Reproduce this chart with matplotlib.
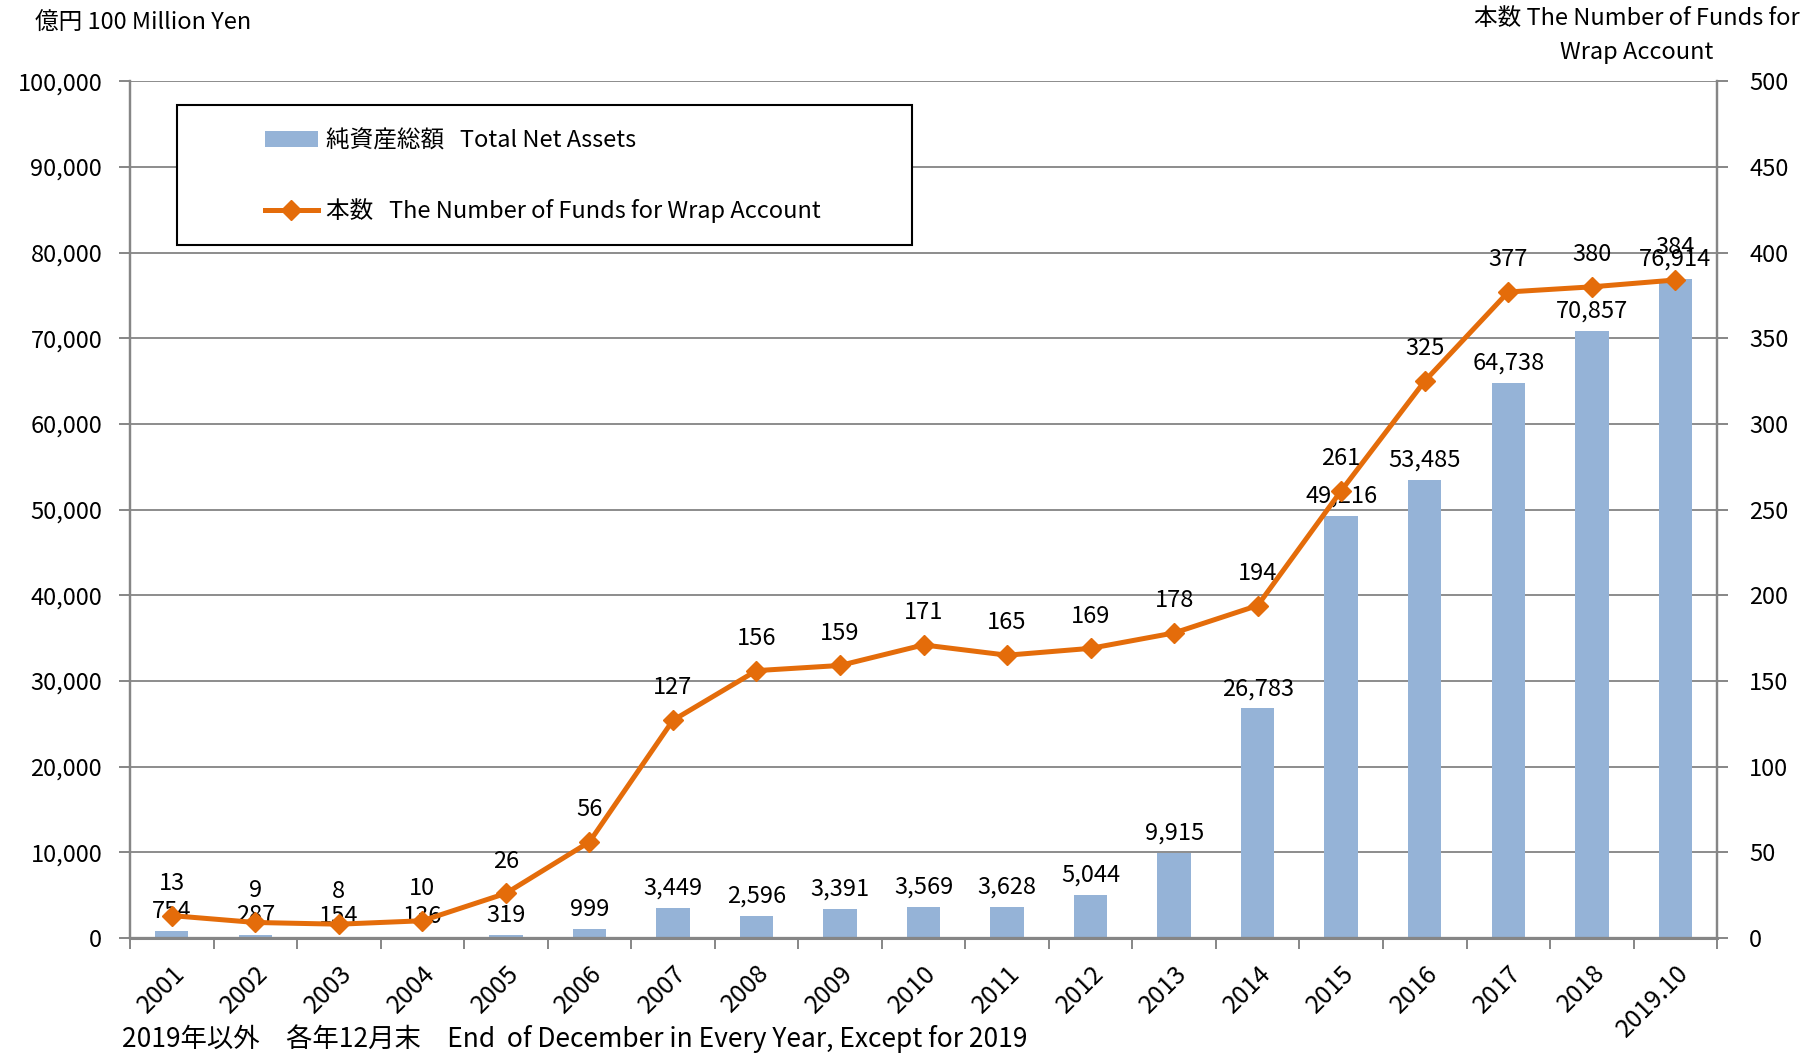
"""Wrap account funds: total net assets (bars) and number of funds (line)."""

import matplotlib
matplotlib.use('Agg')
import matplotlib.pyplot as plt
from matplotlib.ticker import FuncFormatter, FixedLocator
from matplotlib.lines import Line2D
from matplotlib.patches import Patch, Rectangle


YEARS = ['2001', '2002', '2003', '2004', '2005', '2006', '2007', '2008', '2009',
         '2010', '2011', '2012', '2013', '2014', '2015', '2016', '2017', '2018',
         '2019.10']
NET_ASSETS = [754, 287, 154, 136, 319, 999, 3449, 2596, 3391, 3569, 3628, 5044,
              9915, 26783, 49216, 53485, 64738, 70857, 76914]
NUM_FUNDS = [13, 9, 8, 10, 26, 56, 127, 156, 159, 171, 165, 169, 178, 194, 261,
             325, 377, 380, 384]

BAR_COLOR = '#95b3d7'
LINE_COLOR = '#e46c0a'
AXIS_COLOR = '#868686'
GRID_COLOR = '#8c8c8c'
TEXT_COLOR = '#000000'
FS = 17

plt.rcParams['font.family'] = ['Noto Sans CJK JP', 'DejaVu Sans']
plt.rcParams['font.size'] = FS


def main():
    fig = plt.figure(figsize=(18.18, 10.55), dpi=100)
    ax = fig.add_axes([0.0715, 0.111, 0.873, 0.812])
    ax2 = ax.twinx()

    x = list(range(len(YEARS)))

    ax.bar(x, NET_ASSETS, width=0.4, color=BAR_COLOR, zorder=2)
    ax.set_ylim(0, 100000)
    ax.set_xlim(-0.5, len(YEARS) - 0.5)
    ax.yaxis.set_major_locator(FixedLocator(range(0, 100001, 10000)))
    ax.yaxis.set_major_formatter(FuncFormatter(lambda v, p: f'{int(v):,}'))
    ax.grid(True, axis='y', color=GRID_COLOR, linewidth=1.4, zorder=0)
    ax.set_axisbelow(True)

    ax.set_xticks(x)
    ax.set_xticklabels(YEARS, rotation=45, ha='right', rotation_mode='anchor',
                       fontsize=18)
    ax.tick_params(axis='x', which='major', length=0, pad=16)
    ax.set_xticks([i - 0.5 for i in range(len(YEARS) + 1)], minor=True)
    ax.tick_params(axis='x', which='minor', length=8, width=1.4, color=AXIS_COLOR)
    ax.tick_params(axis='y', length=8, width=1.4, color=AXIS_COLOR, pad=12)

    ax.spines['top'].set_visible(False)
    ax2.spines['top'].set_visible(False)
    for side in ['left', 'bottom', 'right']:
        ax.spines[side].set_color(AXIS_COLOR)
        ax.spines[side].set_linewidth(1.6)
        ax2.spines[side].set_color(AXIS_COLOR)
        ax2.spines[side].set_linewidth(1.6)
    ax.spines['bottom'].set_linewidth(2.2)

    ax2.plot(x, NUM_FUNDS, color=LINE_COLOR, linewidth=3.6, marker='D',
             markersize=10, zorder=3)
    ax2.set_ylim(0, 500)
    ax2.yaxis.set_major_locator(FixedLocator(range(0, 501, 50)))
    ax2.tick_params(axis='y', length=8, width=1.4, color=AXIS_COLOR, pad=15)

    for xi, v in zip(x, NET_ASSETS):
        ax.annotate(f'{v:,}', (xi, v), xytext=(0, 6), textcoords='offset points',
                    ha='center', va='bottom', fontsize=FS, color=TEXT_COLOR)
    for xi, v in zip(x, NUM_FUNDS):
        ax2.annotate(f'{v}', (xi, v), xytext=(0, 15), textcoords='offset points',
                     ha='center', va='bottom', fontsize=FS, color=TEXT_COLOR)

    # legend frame drawn separately so the entries can sit well inside it
    frame = Rectangle((0.0296, 0.8088), 0.4632, 0.1634, transform=ax.transAxes,
                      facecolor='white', edgecolor='black', linewidth=1.5,
                      zorder=6, clip_on=False)
    ax2.add_patch(frame)
    handles = [
        Patch(facecolor=BAR_COLOR, label='純資産総額   Total Net Assets'),
        Line2D([0], [0], color=LINE_COLOR, linewidth=3.6, marker='D',
               markersize=10, label='本数   The Number of Funds for Wrap Account'),
    ]
    leg = ax2.legend(handles=handles, loc='center left',
                     bbox_to_anchor=(0.085, 0.889), frameon=False,
                     fontsize=FS, handlelength=2.25, handleheight=0.7,
                     handletextpad=0.35, labelspacing=1.95, borderpad=0,
                     borderaxespad=0)
    leg.set_zorder(7)

    fig.text(0.019, 0.978, '億円 100 Million Yen', ha='left', va='center', fontsize=FS)
    fig.text(0.9005, 0.9665, '本数 The Number of Funds for\nWrap Account',
             ha='center', va='center', fontsize=FS, linespacing=1.6)
    fig.text(0.067, 0.016,
             '2019年以外　各年12月末　End  of December in Every Year, Except for 2019',
             ha='left', va='center', fontsize=19)

    fig.savefig('out.png', dpi=100)


if __name__ == '__main__':
    main()
